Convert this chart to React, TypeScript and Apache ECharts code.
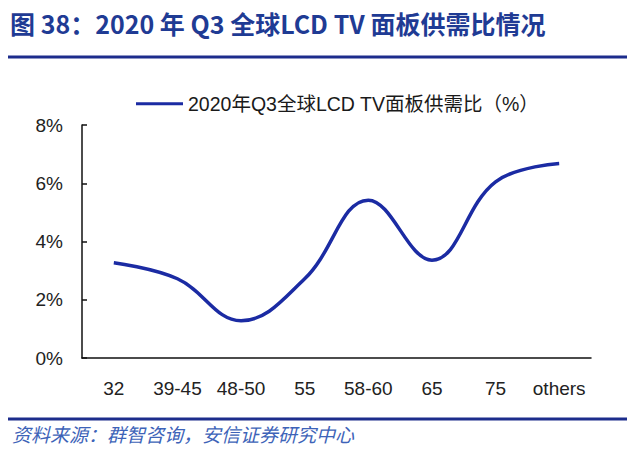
import React, { useEffect, useRef } from 'react';
import * as echarts from 'echarts';

const categories = ['32', '39-45', '48-50', '55', '58-60', '65', '75', 'others'];
const ratioValues = [3.27, 2.72, 1.28, 2.72, 5.42, 3.36, 6.05, 6.68];
const seriesName = '2020年Q3全球LCD TV面板供需比（%）';
const titleText = '图 38：2020 年 Q3 全球LCD TV 面板供需比情况';
const sourceText = '资料来源：群智咨询，安信证券研究中心';

const App: React.FC = () => {
  const chartRef = useRef<HTMLDivElement>(null);

  useEffect(() => {
    if (!chartRef.current) return;
    const chart = echarts.init(chartRef.current, undefined, { renderer: 'svg' });

    const font = '"Liberation Sans", "Noto Sans CJK SC", sans-serif';

    const option: echarts.EChartsOption = {
      animation: false,
      backgroundColor: '#ffffff',
      textStyle: { fontFamily: font },
      grid: { left: 82, right: 49, top: 125, bottom: 91 },
      legend: {
        data: [seriesName],
        left: 131,
        top: 89,
        icon: 'rect',
        itemWidth: 47,
        itemHeight: 3,
        itemGap: 6,
        textStyle: { fontSize: 19.5, color: '#1a1a1a', fontFamily: font },
      },
      xAxis: {
        type: 'category',
        data: categories,
        boundaryGap: true,
        axisLine: { lineStyle: { color: '#111', width: 1.5 } },
        axisTick: { inside: true, length: 5, lineStyle: { color: '#111', width: 1.5 } },
        axisLabel: { fontSize: 19, color: '#222', margin: 21, interval: 0 },
        splitLine: { show: false },
      },
      yAxis: {
        type: 'value',
        min: 0,
        max: 8,
        interval: 2,
        axisLine: { show: true, lineStyle: { color: '#111', width: 1.5 } },
        axisTick: { show: true, inside: true, length: 5, lineStyle: { color: '#111', width: 1.5 } },
        axisLabel: { fontSize: 19, color: '#222', margin: 19, formatter: (v: number) => `${v}%` },
        splitLine: { show: false },
      },
      series: [
        {
          name: seriesName,
          type: 'line',
          data: ratioValues,
          smooth: 0.4,
          symbol: 'none',
          lineStyle: { color: '#1b2ba3', width: 3.5 },
          itemStyle: { color: '#1b2ba3' },
        },
      ],
      graphic: [
        {
          type: 'text',
          left: 10,
          top: 10,
          style: {
            text: titleText,
            fontSize: 25,
            fontWeight: 'bold',
            fill: '#1f3b94',
            fontFamily: '"Noto Sans CJK SC", sans-serif',
          },
        },
        {
          type: 'line',
          shape: { x1: 8, y1: 57, x2: 627, y2: 57 },
          style: { stroke: '#1c2c8c', lineWidth: 3 },
        },
        {
          type: 'line',
          shape: { x1: 8, y1: 419, x2: 627, y2: 419 },
          style: { stroke: '#1c2c8c', lineWidth: 3 },
        },
        {
          type: 'text',
          left: 12,
          top: 424,
          style: {
            text: sourceText,
            fontSize: 19,
            fontStyle: 'italic',
            fill: '#3d63b8',
            fontFamily: '"Noto Sans CJK SC", sans-serif',
          },
        },
      ],
    };

    chart.setOption(option);
    return () => chart.dispose();
  }, []);

  return (
    <div
      ref={chartRef}
      style={{ position: 'fixed', left: 0, top: 0, width: 640, height: 449 }}
    />
  );
};

export default App;
